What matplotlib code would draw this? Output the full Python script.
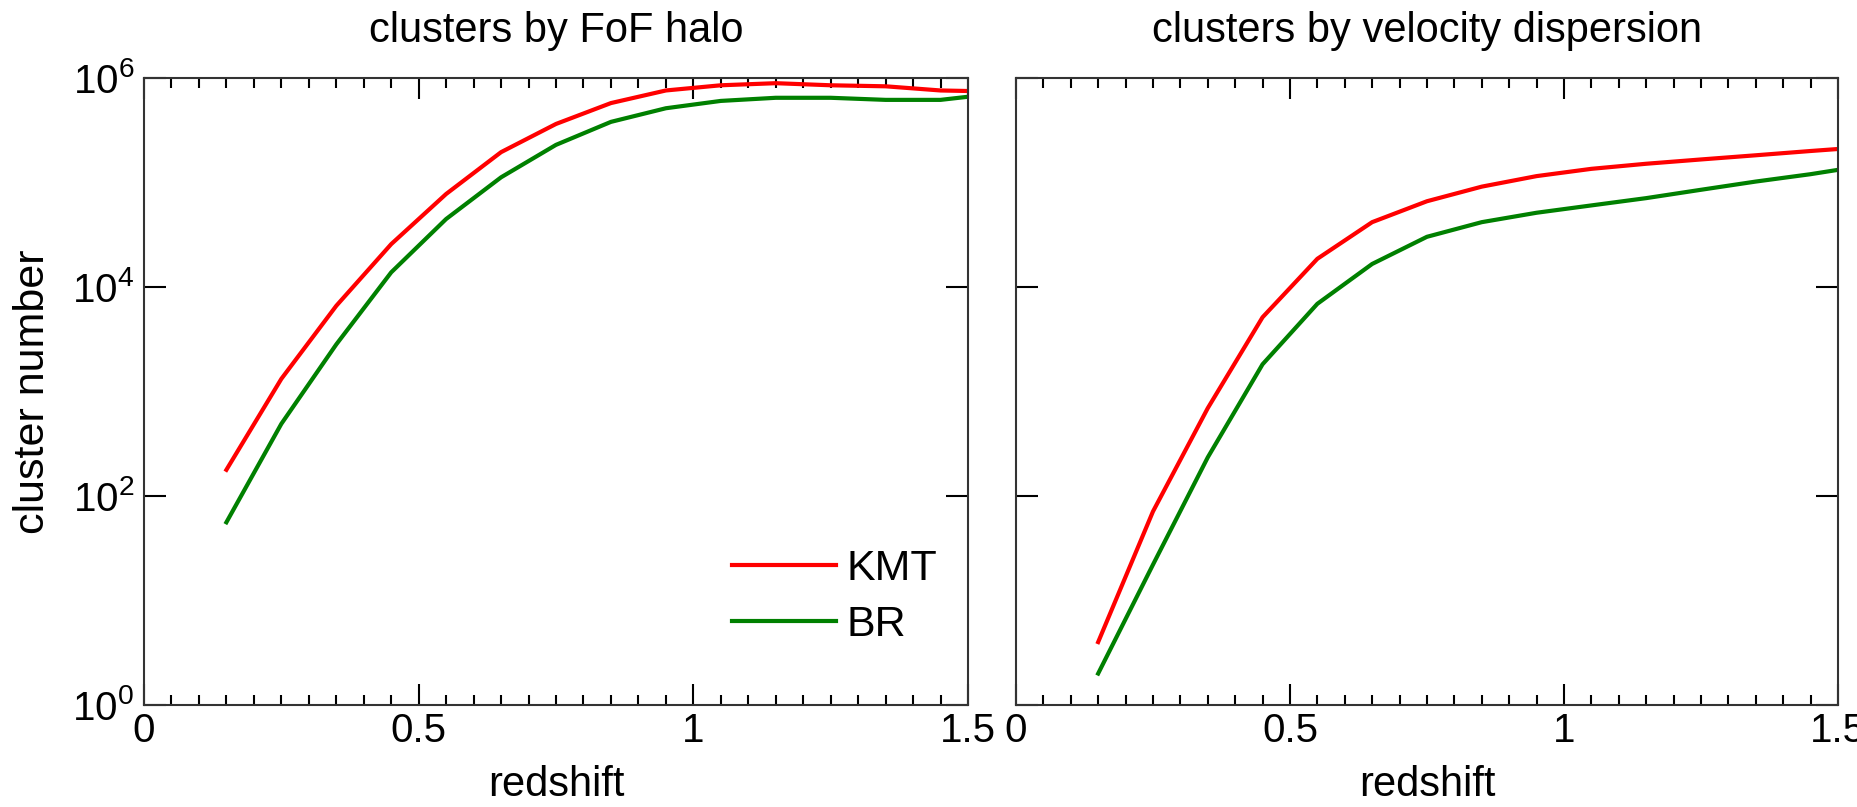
import matplotlib
matplotlib.use("Agg")
import matplotlib.pyplot as plt
from matplotlib.ticker import MultipleLocator, FixedLocator, NullLocator
import numpy as np

plt.rcParams['font.family'] = ['Liberation Sans', 'DejaVu Sans']
plt.rcParams['mathtext.fontset'] = 'custom'
plt.rcParams['mathtext.rm'] = 'Liberation Sans'
plt.rcParams['mathtext.it'] = 'Liberation Sans:italic'

# redshift bins
z = [0.15, 0.25, 0.35, 0.45, 0.55, 0.65, 0.75, 0.85, 0.95, 1.05, 1.15, 1.25, 1.35, 1.45, 1.5]

# clusters by FoF halo
fof_kmt = [178, 1320, 6600, 25700, 77600, 195000, 363000, 575000, 759000, 851000,
           891000, 851000, 832000, 759000, 750000]
fof_br = [56, 490, 2820, 13800, 44700, 112000, 229000, 380000, 513000, 603000,
          646000, 646000, 617000, 617000, 661000]

# clusters by velocity dispersion
vd_kmt = [4.0, 71, 692, 5130, 18600, 41700, 66100, 91200, 115000, 135000,
          151000, 166000, 182000, 200000, 209000]
vd_br = [2.0, 22, 234, 1820, 6900, 16600, 30200, 41700, 51300, 60300,
         70800, 85100, 102000, 120000, 132000]

titles = ["clusters by FoF halo", "clusters by velocity dispersion"]
xticks = [0, 0.5, 1, 1.5]
xticklabels = ["0", "0.5", "1", "1.5"]
yticks = [1, 1e2, 1e4, 1e6]
yticklabels = [r"$\mathregular{10^{0}}$", r"$\mathregular{10^{2}}$",
               r"$\mathregular{10^{4}}$", r"$\mathregular{10^{6}}$"]

fs = 30
red = "#ff0000"
green = "#008000"

fig = plt.figure(figsize=(18.58, 8.07), dpi=100)
ax1 = fig.add_axes([0.0775, 0.1264, 0.4435, 0.7770])
ax2 = fig.add_axes([0.5468, 0.1264, 0.4424, 0.7770])

for ax, t, k, b in [(ax1, titles[0], fof_kmt, fof_br), (ax2, titles[1], vd_kmt, vd_br)]:
    ax.plot(z, k, color=red, lw=3, label="KMT")
    ax.plot(z, b, color=green, lw=3, label="BR")
    ax.set_yscale("log")
    ax.set_xlim(0, 1.5)
    ax.set_ylim(1, 1e6)
    ax.xaxis.set_major_locator(FixedLocator(xticks))
    ax.set_xticklabels(xticklabels)
    ax.xaxis.set_minor_locator(MultipleLocator(0.05))
    ax.yaxis.set_major_locator(FixedLocator(yticks))
    ax.yaxis.set_minor_locator(NullLocator())
    ax.tick_params(which="both", direction="in", top=True, right=True, width=1.5,
                   labelsize=fs - 1, pad=5)
    ax.tick_params(axis="x", which="major", length=15)
    ax.tick_params(axis="x", which="minor", length=7)
    ax.tick_params(axis="y", which="major", length=16, pad=7)
    for s in ax.spines.values():
        s.set_linewidth(1.5)
        s.set_color("#333333")
    ax.set_title(t, fontsize=fs, pad=26)
    ax.set_xlabel("redshift", fontsize=fs, labelpad=11)

ax1.set_yticklabels(yticklabels)
ax2.set_yticklabels([])
ax1.set_ylabel("cluster number", fontsize=fs + 1, labelpad=14)

ax1.legend(loc="center left", bbox_to_anchor=(0.714, 0.172), frameon=False,
           fontsize=fs + 1, handlelength=2.4, handletextpad=0.25,
           labelspacing=0.38, borderpad=0, borderaxespad=0)

fig.savefig("out.png", dpi=100)
